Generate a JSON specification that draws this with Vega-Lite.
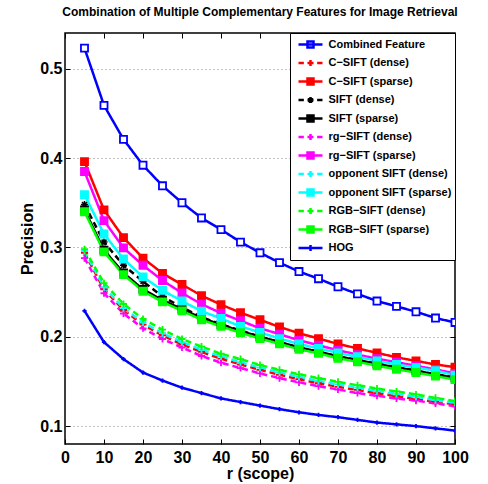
{
  "$schema": "https://vega.github.io/schema/vega-lite/v6.json",
  "width": 390,
  "height": 411,
  "autosize": "none",
  "padding": {"left": 65, "top": 33, "right": 33, "bottom": 40},
  "background": "white",
  "title": {"text": "Combination of Multiple Complementary Features for Image Retrieval", "font": "Liberation Sans", "fontSize": 12, "fontWeight": "bold", "color": "black", "offset": 14, "anchor": "middle"},
  "config": {
    "view": {"stroke": "black", "strokeWidth": 1.5},
    "legend": {"orient": "top-right", "offset": 0, "strokeColor": "black", "fillColor": "white", "padding": 3, "labelFont": "Liberation Sans", "labelFontWeight": "bold", "labelFontSize": 11, "labelColor": "black", "symbolSize": 196, "symbolStrokeWidth": 2.5, "symbolOpacity": 1, "rowPadding": 1.5, "symbolOffset": 9, "labelOffset": 9.5, "labelLimit": 0}
  },
  "datasets": {
    "d": [
      {"s":"Combined Feature","r":5,"p":0.523},{"s":"Combined Feature","r":10,"p":0.459},{"s":"Combined Feature","r":15,"p":0.421},{"s":"Combined Feature","r":20,"p":0.392},{"s":"Combined Feature","r":25,"p":0.369},{"s":"Combined Feature","r":30,"p":0.350},{"s":"Combined Feature","r":35,"p":0.333},{"s":"Combined Feature","r":40,"p":0.320},{"s":"Combined Feature","r":45,"p":0.306},{"s":"Combined Feature","r":50,"p":0.294},{"s":"Combined Feature","r":55,"p":0.283},{"s":"Combined Feature","r":60,"p":0.273},{"s":"Combined Feature","r":65,"p":0.265},{"s":"Combined Feature","r":70,"p":0.256},{"s":"Combined Feature","r":75,"p":0.248},{"s":"Combined Feature","r":80,"p":0.240},{"s":"Combined Feature","r":85,"p":0.234},{"s":"Combined Feature","r":90,"p":0.228},{"s":"Combined Feature","r":95,"p":0.221},{"s":"Combined Feature","r":100,"p":0.216},
      {"s":"C−SIFT (dense)","r":5,"p":0.294},{"s":"C−SIFT (dense)","r":10,"p":0.253},{"s":"C−SIFT (dense)","r":15,"p":0.230},{"s":"C−SIFT (dense)","r":20,"p":0.2135},{"s":"C−SIFT (dense)","r":25,"p":0.2015},{"s":"C−SIFT (dense)","r":30,"p":0.1915},{"s":"C−SIFT (dense)","r":35,"p":0.183},{"s":"C−SIFT (dense)","r":40,"p":0.1755},{"s":"C−SIFT (dense)","r":45,"p":0.169},{"s":"C−SIFT (dense)","r":50,"p":0.163},{"s":"C−SIFT (dense)","r":55,"p":0.1575},{"s":"C−SIFT (dense)","r":60,"p":0.1525},{"s":"C−SIFT (dense)","r":65,"p":0.148},{"s":"C−SIFT (dense)","r":70,"p":0.144},{"s":"C−SIFT (dense)","r":75,"p":0.1405},{"s":"C−SIFT (dense)","r":80,"p":0.1368},{"s":"C−SIFT (dense)","r":85,"p":0.1335},{"s":"C−SIFT (dense)","r":90,"p":0.1303},{"s":"C−SIFT (dense)","r":95,"p":0.127},{"s":"C−SIFT (dense)","r":100,"p":0.1245},
      {"s":"C−SIFT (sparse)","r":5,"p":0.396},{"s":"C−SIFT (sparse)","r":10,"p":0.342},{"s":"C−SIFT (sparse)","r":15,"p":0.311},{"s":"C−SIFT (sparse)","r":20,"p":0.288},{"s":"C−SIFT (sparse)","r":25,"p":0.271},{"s":"C−SIFT (sparse)","r":30,"p":0.2585},{"s":"C−SIFT (sparse)","r":35,"p":0.246},{"s":"C−SIFT (sparse)","r":40,"p":0.236},{"s":"C−SIFT (sparse)","r":45,"p":0.227},{"s":"C−SIFT (sparse)","r":50,"p":0.219},{"s":"C−SIFT (sparse)","r":55,"p":0.211},{"s":"C−SIFT (sparse)","r":60,"p":0.204},{"s":"C−SIFT (sparse)","r":65,"p":0.198},{"s":"C−SIFT (sparse)","r":70,"p":0.192},{"s":"C−SIFT (sparse)","r":75,"p":0.187},{"s":"C−SIFT (sparse)","r":80,"p":0.182},{"s":"C−SIFT (sparse)","r":85,"p":0.177},{"s":"C−SIFT (sparse)","r":90,"p":0.173},{"s":"C−SIFT (sparse)","r":95,"p":0.169},{"s":"C−SIFT (sparse)","r":100,"p":0.166},
      {"s":"SIFT (dense)","r":5,"p":0.348},{"s":"SIFT (dense)","r":10,"p":0.306},{"s":"SIFT (dense)","r":15,"p":0.280},{"s":"SIFT (dense)","r":20,"p":0.262},{"s":"SIFT (dense)","r":25,"p":0.245},{"s":"SIFT (dense)","r":30,"p":0.233},{"s":"SIFT (dense)","r":35,"p":0.222},{"s":"SIFT (dense)","r":40,"p":0.214},{"s":"SIFT (dense)","r":45,"p":0.207},{"s":"SIFT (dense)","r":50,"p":0.200},{"s":"SIFT (dense)","r":55,"p":0.194},{"s":"SIFT (dense)","r":60,"p":0.188},{"s":"SIFT (dense)","r":65,"p":0.183},{"s":"SIFT (dense)","r":70,"p":0.178},{"s":"SIFT (dense)","r":75,"p":0.174},{"s":"SIFT (dense)","r":80,"p":0.170},{"s":"SIFT (dense)","r":85,"p":0.166},{"s":"SIFT (dense)","r":90,"p":0.162},{"s":"SIFT (dense)","r":95,"p":0.158},{"s":"SIFT (dense)","r":100,"p":0.155},
      {"s":"SIFT (sparse)","r":5,"p":0.342},{"s":"SIFT (sparse)","r":10,"p":0.297},{"s":"SIFT (sparse)","r":15,"p":0.2715},{"s":"SIFT (sparse)","r":20,"p":0.253},{"s":"SIFT (sparse)","r":25,"p":0.241},{"s":"SIFT (sparse)","r":30,"p":0.231},{"s":"SIFT (sparse)","r":35,"p":0.221},{"s":"SIFT (sparse)","r":40,"p":0.2135},{"s":"SIFT (sparse)","r":45,"p":0.2065},{"s":"SIFT (sparse)","r":50,"p":0.200},{"s":"SIFT (sparse)","r":55,"p":0.194},{"s":"SIFT (sparse)","r":60,"p":0.188},{"s":"SIFT (sparse)","r":65,"p":0.1834},{"s":"SIFT (sparse)","r":70,"p":0.178},{"s":"SIFT (sparse)","r":75,"p":0.174},{"s":"SIFT (sparse)","r":80,"p":0.1696},{"s":"SIFT (sparse)","r":85,"p":0.1656},{"s":"SIFT (sparse)","r":90,"p":0.162},{"s":"SIFT (sparse)","r":95,"p":0.158},{"s":"SIFT (sparse)","r":100,"p":0.154},
      {"s":"rg−SIFT (dense)","r":5,"p":0.288},{"s":"rg−SIFT (dense)","r":10,"p":0.2487},{"s":"rg−SIFT (dense)","r":15,"p":0.226},{"s":"rg−SIFT (dense)","r":20,"p":0.2095},{"s":"rg−SIFT (dense)","r":25,"p":0.1975},{"s":"rg−SIFT (dense)","r":30,"p":0.188},{"s":"rg−SIFT (dense)","r":35,"p":0.1785},{"s":"rg−SIFT (dense)","r":40,"p":0.171},{"s":"rg−SIFT (dense)","r":45,"p":0.165},{"s":"rg−SIFT (dense)","r":50,"p":0.159},{"s":"rg−SIFT (dense)","r":55,"p":0.1537},{"s":"rg−SIFT (dense)","r":60,"p":0.149},{"s":"rg−SIFT (dense)","r":65,"p":0.1447},{"s":"rg−SIFT (dense)","r":70,"p":0.141},{"s":"rg−SIFT (dense)","r":75,"p":0.137},{"s":"rg−SIFT (dense)","r":80,"p":0.134},{"s":"rg−SIFT (dense)","r":85,"p":0.131},{"s":"rg−SIFT (dense)","r":90,"p":0.1285},{"s":"rg−SIFT (dense)","r":95,"p":0.1255},{"s":"rg−SIFT (dense)","r":100,"p":0.1222},
      {"s":"rg−SIFT (sparse)","r":5,"p":0.385},{"s":"rg−SIFT (sparse)","r":10,"p":0.330},{"s":"rg−SIFT (sparse)","r":15,"p":0.2995},{"s":"rg−SIFT (sparse)","r":20,"p":0.280},{"s":"rg−SIFT (sparse)","r":25,"p":0.263},{"s":"rg−SIFT (sparse)","r":30,"p":0.249},{"s":"rg−SIFT (sparse)","r":35,"p":0.2365},{"s":"rg−SIFT (sparse)","r":40,"p":0.2265},{"s":"rg−SIFT (sparse)","r":45,"p":0.218},{"s":"rg−SIFT (sparse)","r":50,"p":0.2095},{"s":"rg−SIFT (sparse)","r":55,"p":0.203},{"s":"rg−SIFT (sparse)","r":60,"p":0.196},{"s":"rg−SIFT (sparse)","r":65,"p":0.1905},{"s":"rg−SIFT (sparse)","r":70,"p":0.185},{"s":"rg−SIFT (sparse)","r":75,"p":0.180},{"s":"rg−SIFT (sparse)","r":80,"p":0.1755},{"s":"rg−SIFT (sparse)","r":85,"p":0.1715},{"s":"rg−SIFT (sparse)","r":90,"p":0.1675},{"s":"rg−SIFT (sparse)","r":95,"p":0.1635},{"s":"rg−SIFT (sparse)","r":100,"p":0.159},
      {"s":"opponent SIFT (dense)","r":5,"p":0.296},{"s":"opponent SIFT (dense)","r":10,"p":0.2555},{"s":"opponent SIFT (dense)","r":15,"p":0.232},{"s":"opponent SIFT (dense)","r":20,"p":0.216},{"s":"opponent SIFT (dense)","r":25,"p":0.204},{"s":"opponent SIFT (dense)","r":30,"p":0.194},{"s":"opponent SIFT (dense)","r":35,"p":0.1855},{"s":"opponent SIFT (dense)","r":40,"p":0.178},{"s":"opponent SIFT (dense)","r":45,"p":0.1715},{"s":"opponent SIFT (dense)","r":50,"p":0.1655},{"s":"opponent SIFT (dense)","r":55,"p":0.160},{"s":"opponent SIFT (dense)","r":60,"p":0.155},{"s":"opponent SIFT (dense)","r":65,"p":0.1505},{"s":"opponent SIFT (dense)","r":70,"p":0.1465},{"s":"opponent SIFT (dense)","r":75,"p":0.143},{"s":"opponent SIFT (dense)","r":80,"p":0.1392},{"s":"opponent SIFT (dense)","r":85,"p":0.136},{"s":"opponent SIFT (dense)","r":90,"p":0.1328},{"s":"opponent SIFT (dense)","r":95,"p":0.129},{"s":"opponent SIFT (dense)","r":100,"p":0.1262},
      {"s":"opponent SIFT (sparse)","r":5,"p":0.359},{"s":"opponent SIFT (sparse)","r":10,"p":0.315},{"s":"opponent SIFT (sparse)","r":15,"p":0.287},{"s":"opponent SIFT (sparse)","r":20,"p":0.267},{"s":"opponent SIFT (sparse)","r":25,"p":0.252},{"s":"opponent SIFT (sparse)","r":30,"p":0.240},{"s":"opponent SIFT (sparse)","r":35,"p":0.2287},{"s":"opponent SIFT (sparse)","r":40,"p":0.2205},{"s":"opponent SIFT (sparse)","r":45,"p":0.2116},{"s":"opponent SIFT (sparse)","r":50,"p":0.205},{"s":"opponent SIFT (sparse)","r":55,"p":0.198},{"s":"opponent SIFT (sparse)","r":60,"p":0.192},{"s":"opponent SIFT (sparse)","r":65,"p":0.187},{"s":"opponent SIFT (sparse)","r":70,"p":0.182},{"s":"opponent SIFT (sparse)","r":75,"p":0.1776},{"s":"opponent SIFT (sparse)","r":80,"p":0.173},{"s":"opponent SIFT (sparse)","r":85,"p":0.169},{"s":"opponent SIFT (sparse)","r":90,"p":0.1655},{"s":"opponent SIFT (sparse)","r":95,"p":0.162},{"s":"opponent SIFT (sparse)","r":100,"p":0.157},
      {"s":"RGB−SIFT (dense)","r":5,"p":0.298},{"s":"RGB−SIFT (dense)","r":10,"p":0.260},{"s":"RGB−SIFT (dense)","r":15,"p":0.2367},{"s":"RGB−SIFT (dense)","r":20,"p":0.220},{"s":"RGB−SIFT (dense)","r":25,"p":0.208},{"s":"RGB−SIFT (dense)","r":30,"p":0.1975},{"s":"RGB−SIFT (dense)","r":35,"p":0.189},{"s":"RGB−SIFT (dense)","r":40,"p":0.181},{"s":"RGB−SIFT (dense)","r":45,"p":0.175},{"s":"RGB−SIFT (dense)","r":50,"p":0.1684},{"s":"RGB−SIFT (dense)","r":55,"p":0.163},{"s":"RGB−SIFT (dense)","r":60,"p":0.158},{"s":"RGB−SIFT (dense)","r":65,"p":0.1537},{"s":"RGB−SIFT (dense)","r":70,"p":0.1495},{"s":"RGB−SIFT (dense)","r":75,"p":0.1458},{"s":"RGB−SIFT (dense)","r":80,"p":0.142},{"s":"RGB−SIFT (dense)","r":85,"p":0.1388},{"s":"RGB−SIFT (dense)","r":90,"p":0.1355},{"s":"RGB−SIFT (dense)","r":95,"p":0.1316},{"s":"RGB−SIFT (dense)","r":100,"p":0.128},
      {"s":"RGB−SIFT (sparse)","r":5,"p":0.340},{"s":"RGB−SIFT (sparse)","r":10,"p":0.295},{"s":"RGB−SIFT (sparse)","r":15,"p":0.2695},{"s":"RGB−SIFT (sparse)","r":20,"p":0.251},{"s":"RGB−SIFT (sparse)","r":25,"p":0.239},{"s":"RGB−SIFT (sparse)","r":30,"p":0.229},{"s":"RGB−SIFT (sparse)","r":35,"p":0.219},{"s":"RGB−SIFT (sparse)","r":40,"p":0.2116},{"s":"RGB−SIFT (sparse)","r":45,"p":0.2045},{"s":"RGB−SIFT (sparse)","r":50,"p":0.198},{"s":"RGB−SIFT (sparse)","r":55,"p":0.192},{"s":"RGB−SIFT (sparse)","r":60,"p":0.186},{"s":"RGB−SIFT (sparse)","r":65,"p":0.1814},{"s":"RGB−SIFT (sparse)","r":70,"p":0.176},{"s":"RGB−SIFT (sparse)","r":75,"p":0.172},{"s":"RGB−SIFT (sparse)","r":80,"p":0.1676},{"s":"RGB−SIFT (sparse)","r":85,"p":0.1636},{"s":"RGB−SIFT (sparse)","r":90,"p":0.160},{"s":"RGB−SIFT (sparse)","r":95,"p":0.156},{"s":"RGB−SIFT (sparse)","r":100,"p":0.152},
      {"s":"HOG","r":5,"p":0.229},{"s":"HOG","r":10,"p":0.194},{"s":"HOG","r":15,"p":0.175},{"s":"HOG","r":20,"p":0.160},{"s":"HOG","r":25,"p":0.151},{"s":"HOG","r":30,"p":0.143},{"s":"HOG","r":35,"p":0.137},{"s":"HOG","r":40,"p":0.131},{"s":"HOG","r":45,"p":0.127},{"s":"HOG","r":50,"p":0.123},{"s":"HOG","r":55,"p":0.119},{"s":"HOG","r":60,"p":0.1155},{"s":"HOG","r":65,"p":0.1125},{"s":"HOG","r":70,"p":0.110},{"s":"HOG","r":75,"p":0.107},{"s":"HOG","r":80,"p":0.104},{"s":"HOG","r":85,"p":0.102},{"s":"HOG","r":90,"p":0.100},{"s":"HOG","r":95,"p":0.0975},{"s":"HOG","r":100,"p":0.095}
    ]
  },
  "data": {"name": "d"},
  "resolve": {"scale": {"stroke": "independent", "fill": "independent", "shape": "independent"}, "axis": {"x": "independent", "y": "independent"}},
  "layer": [
    {
      "mark": {"type": "line", "strokeWidth": 2.5, "clip": true},
      "encoding": {
        "x": {"field": "r", "type": "quantitative", "scale": {"domain": [0, 100], "nice": false, "zero": false},
              "axis": {"orient": "bottom", "values": [0,10,20,30,40,50,60,70,80,90,100], "title": "r (scope)", "grid": false, "domain": false, "tickSize": -5, "tickColor": "black", "tickWidth": 1, "labelFont": "Liberation Sans", "labelFontSize": 16, "labelFontWeight": "bold", "labelColor": "black", "labelPadding": 10, "labelFlush": false, "labelOverlap": false, "titleFont": "Liberation Sans", "titleFontSize": 16, "titleFontWeight": "bold", "titleColor": "black", "titlePadding": 0}},
        "y": {"field": "p", "type": "quantitative", "scale": {"domain": [0.08, 0.54], "nice": false, "zero": false},
              "axis": {"orient": "left", "values": [0.1,0.2,0.3,0.4,0.5], "format": ".1f", "title": "Precision", "grid": true, "gridDash": [1,3], "gridColor": "#888888", "gridWidth": 1, "domain": false, "tickSize": -5, "tickColor": "black", "labelFont": "Liberation Sans", "labelFontSize": 16, "labelFontWeight": "bold", "labelColor": "black", "labelPadding": 8, "labelOverlap": false, "titleFont": "Liberation Sans", "titleFontSize": 16, "titleFontWeight": "bold", "titleColor": "black", "titlePadding": 4}},
        "stroke": {"field": "s", "type": "nominal", "legend": null,
                   "scale": {"domain": ["Combined Feature","C−SIFT (dense)","C−SIFT (sparse)","SIFT (dense)","SIFT (sparse)","rg−SIFT (dense)","rg−SIFT (sparse)","opponent SIFT (dense)","opponent SIFT (sparse)","RGB−SIFT (dense)","RGB−SIFT (sparse)","HOG"],
                             "range": ["#0000ff","#ff0000","#ff0000","#000000","#000000","#ff00ff","#ff00ff","#00ffff","#00ffff","#00ff00","#00ff00","#0000ff"]}},
        "strokeDash": {"field": "s", "type": "nominal", "legend": null,
                   "scale": {"domain": ["Combined Feature","C−SIFT (dense)","C−SIFT (sparse)","SIFT (dense)","SIFT (sparse)","rg−SIFT (dense)","rg−SIFT (sparse)","opponent SIFT (dense)","opponent SIFT (sparse)","RGB−SIFT (dense)","RGB−SIFT (sparse)","HOG"],
                             "range": [[1,0],[6,4],[1,0],[6,4],[1,0],[6,4],[1,0],[6,4],[1,0],[6,4],[1,0],[1,0]]}}
      }
    },
    {
      "transform": [{"filter": {"field": "s", "equal": "SIFT (dense)"}}],
      "mark": {"type": "point", "shape": "M-1,0H1M0,-1V1M-0.7,-0.7L0.7,0.7M-0.7,0.7L0.7,-0.7", "size": 50, "strokeWidth": 1.5, "opacity": 1, "clip": true, "stroke": "#000000"},
      "encoding": {
        "x": {"field": "r", "type": "quantitative", "axis": null},
        "y": {"field": "p", "type": "quantitative", "axis": null}
      }
    },
    {
      "transform": [{"filter": {"field": "s", "oneOf": ["C−SIFT (dense)","rg−SIFT (dense)","opponent SIFT (dense)","RGB−SIFT (dense)"]}}],
      "mark": {"type": "point", "shape": "M-1,0H1M0,-1V1", "size": 50, "strokeWidth": 1.8, "opacity": 1, "clip": true},
      "encoding": {
        "x": {"field": "r", "type": "quantitative", "axis": null},
        "y": {"field": "p", "type": "quantitative", "axis": null},
        "stroke": {"field": "s", "type": "nominal", "legend": null,
                   "scale": {"domain": ["Combined Feature","C−SIFT (dense)","C−SIFT (sparse)","SIFT (dense)","SIFT (sparse)","rg−SIFT (dense)","rg−SIFT (sparse)","opponent SIFT (dense)","opponent SIFT (sparse)","RGB−SIFT (dense)","RGB−SIFT (sparse)","HOG"],
                             "range": ["#0000ff","#ff0000","#ff0000","#000000","#000000","#ff00ff","#ff00ff","#00ffff","#00ffff","#00ff00","#00ff00","#0000ff"]}}
      }
    },
    {
      "transform": [{"filter": {"field": "s", "equal": "HOG"}}],
      "mark": {"type": "point", "shape": "M-0.6,0H0.6M0,-0.6V0.6", "size": 50, "strokeWidth": 1.8, "opacity": 1, "clip": true, "stroke": "#0000ff"},
      "encoding": {
        "x": {"field": "r", "type": "quantitative", "axis": null},
        "y": {"field": "p", "type": "quantitative", "axis": null}
      }
    },
    {
      "transform": [{"filter": {"field": "s", "oneOf": ["Combined Feature","C−SIFT (sparse)","SIFT (sparse)","rg−SIFT (sparse)","opponent SIFT (sparse)","RGB−SIFT (sparse)"]}}],
      "mark": {"type": "point", "shape": "square", "size": 50, "strokeWidth": 1.8, "opacity": 1, "clip": true},
      "encoding": {
        "x": {"field": "r", "type": "quantitative", "axis": null},
        "y": {"field": "p", "type": "quantitative", "axis": null},
        "stroke": {"field": "s", "type": "nominal", "legend": null,
                   "scale": {"domain": ["Combined Feature","C−SIFT (dense)","C−SIFT (sparse)","SIFT (dense)","SIFT (sparse)","rg−SIFT (dense)","rg−SIFT (sparse)","opponent SIFT (dense)","opponent SIFT (sparse)","RGB−SIFT (dense)","RGB−SIFT (sparse)","HOG"],
                             "range": ["#0000ff","#ff0000","#ff0000","#000000","#000000","#ff00ff","#ff00ff","#00ffff","#00ffff","#00ff00","#00ff00","#0000ff"]}},
        "fill": {"field": "s", "type": "nominal", "legend": null,
                 "scale": {"domain": ["Combined Feature","C−SIFT (dense)","C−SIFT (sparse)","SIFT (dense)","SIFT (sparse)","rg−SIFT (dense)","rg−SIFT (sparse)","opponent SIFT (dense)","opponent SIFT (sparse)","RGB−SIFT (dense)","RGB−SIFT (sparse)","HOG"],
                           "range": ["#ffffff","#ff0000","#ff0000","#000000","#000000","#ff00ff","#ff00ff","#00ffff","#00ffff","#00ff00","#00ff00","#0000ff"]}}
      }
    },
    {
      "transform": [{"filter": "datum.r > 1000"}],
      "mark": {"type": "point", "strokeWidth": 2.5, "opacity": 1},
      "encoding": {
        "x": {"field": "r", "type": "quantitative", "axis": {"orient": "top", "values": [0,10,20,30,40,50,60,70,80,90,100], "labels": false, "title": null, "grid": false, "domain": false, "tickSize": -5, "tickColor": "black"}},
        "y": {"field": "p", "type": "quantitative", "axis": {"orient": "right", "values": [0.1,0.2,0.3,0.4,0.5], "labels": false, "title": null, "grid": false, "domain": false, "tickSize": -5, "tickColor": "black"}},
        "stroke": {"field": "s", "type": "nominal", "legend": {"title": null},
                   "scale": {"domain": ["Combined Feature","C−SIFT (dense)","C−SIFT (sparse)","SIFT (dense)","SIFT (sparse)","rg−SIFT (dense)","rg−SIFT (sparse)","opponent SIFT (dense)","opponent SIFT (sparse)","RGB−SIFT (dense)","RGB−SIFT (sparse)","HOG"],
                             "range": ["#0000ff","#ff0000","#ff0000","#000000","#000000","#ff00ff","#ff00ff","#00ffff","#00ffff","#00ff00","#00ff00","#0000ff"]}},
        "fill": {"field": "s", "type": "nominal", "legend": {"title": null},
                 "scale": {"domain": ["Combined Feature","C−SIFT (dense)","C−SIFT (sparse)","SIFT (dense)","SIFT (sparse)","rg−SIFT (dense)","rg−SIFT (sparse)","opponent SIFT (dense)","opponent SIFT (sparse)","RGB−SIFT (dense)","RGB−SIFT (sparse)","HOG"],
                           "range": ["#ffffff","#ff0000","#ff0000","#000000","#000000","#ff00ff","#ff00ff","#00ffff","#00ffff","#00ff00","#00ff00","#0000ff"]}},
        "shape": {"field": "s", "type": "nominal", "legend": {"title": null},
                  "scale": {"domain": ["Combined Feature","C−SIFT (dense)","C−SIFT (sparse)","SIFT (dense)","SIFT (sparse)","rg−SIFT (dense)","rg−SIFT (sparse)","opponent SIFT (dense)","opponent SIFT (sparse)","RGB−SIFT (dense)","RGB−SIFT (sparse)","HOG"],
                            "range": ["M-1.714,0H1.714M-0.43,-0.43H0.43V0.43H-0.43Z","M-1.714,0H-0.95M0.95,0H1.714M-0.43,0H0.43M0,-0.43V0.43","M-1.714,0H1.714M-0.43,-0.43H0.43V0.43H-0.43Z","M-1.714,0H-0.95M0.95,0H1.714M-0.43,0H0.43M0,-0.43V0.43M-0.3,-0.3L0.3,0.3M-0.3,0.3L0.3,-0.3","M-1.714,0H1.714M-0.43,-0.43H0.43V0.43H-0.43Z","M-1.714,0H-0.95M0.95,0H1.714M-0.43,0H0.43M0,-0.43V0.43","M-1.714,0H1.714M-0.43,-0.43H0.43V0.43H-0.43Z","M-1.714,0H-0.95M0.95,0H1.714M-0.43,0H0.43M0,-0.43V0.43","M-1.714,0H1.714M-0.43,-0.43H0.43V0.43H-0.43Z","M-1.714,0H-0.95M0.95,0H1.714M-0.43,0H0.43M0,-0.43V0.43","M-1.714,0H1.714M-0.43,-0.43H0.43V0.43H-0.43Z","M-1.714,0H1.714M0,-0.43V0.43"]}}
      }
    }
  ]
}
